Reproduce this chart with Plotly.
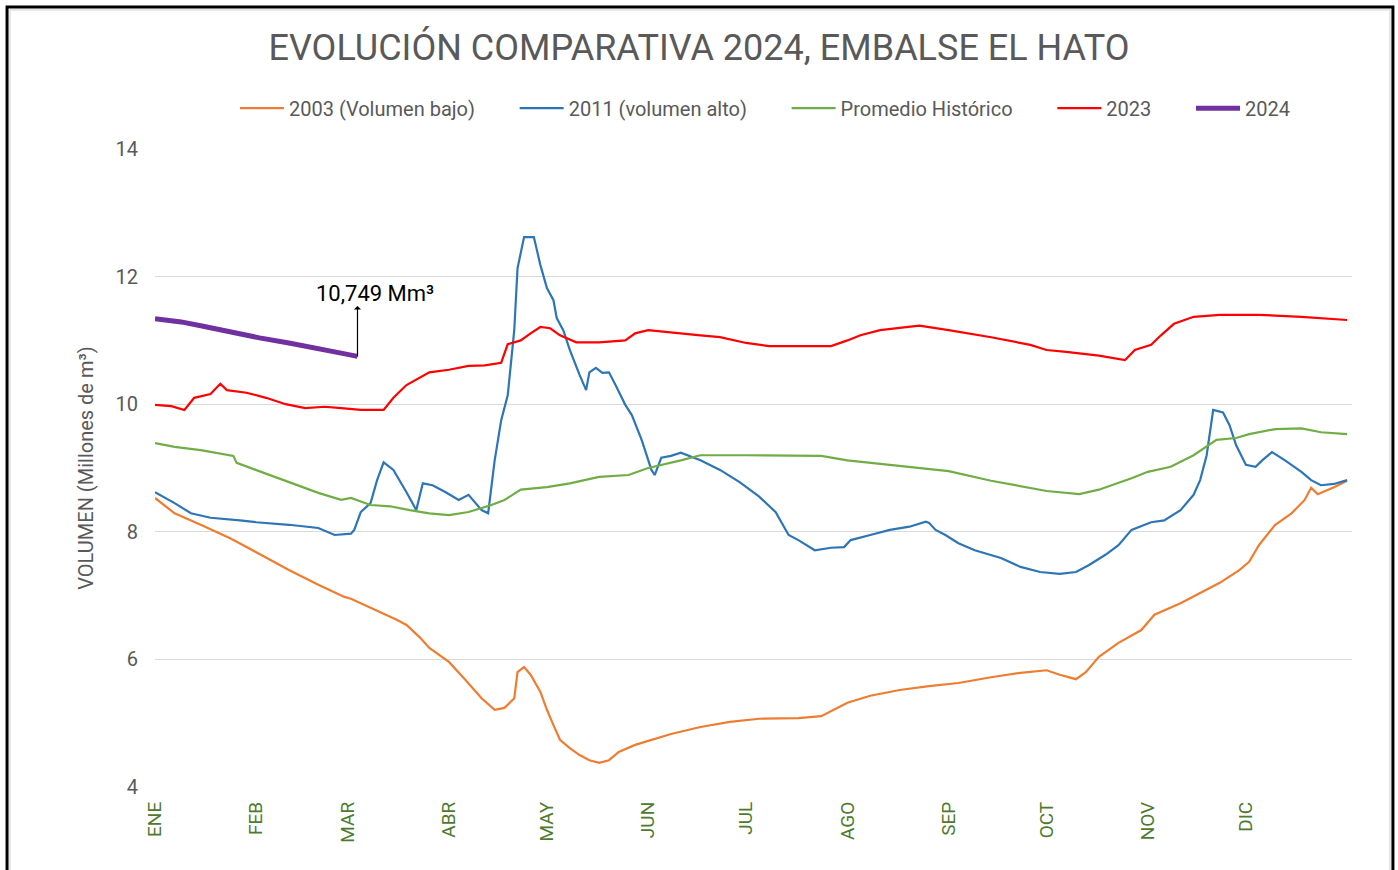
import plotly.graph_objects as go

# ---- data (day of year, volume in millones de m3) ----
month_days = [0, 31, 59, 90, 120, 151, 181, 212, 243, 273, 304, 334]
month_labels = ["ENE", "FEB", "MAR", "ABR", "MAY", "JUN", "JUL", "AGO", "SEP", "OCT", "NOV", "DIC"]
y_ticks = [4, 6, 8, 10, 12, 14]

d2003 = [0, 6, 14, 23, 31, 41, 50, 58, 60, 67, 74, 77, 81, 84, 90, 95, 100, 104, 107, 110, 111, 113, 115,
         118, 120, 122, 124, 127, 130, 133, 136, 139, 142, 147, 152, 158, 167, 176, 185, 197, 204, 208, 212,
         219, 228, 237, 246, 256, 265, 273, 277, 282, 285, 289, 295, 302, 306, 314, 320, 326, 332, 335, 338,
         343, 348, 352, 354, 356, 361, 365]
v2003 = [8.53, 8.29, 8.11, 7.90, 7.68, 7.40, 7.17, 6.98, 6.95, 6.79, 6.62, 6.54, 6.35, 6.18, 5.96, 5.68, 5.39,
         5.21, 5.24, 5.39, 5.80, 5.88, 5.76, 5.49, 5.21, 4.97, 4.74, 4.61, 4.50, 4.42, 4.38, 4.42, 4.55, 4.66,
         4.74, 4.83, 4.94, 5.02, 5.07, 5.08, 5.11, 5.21, 5.32, 5.43, 5.52, 5.58, 5.63, 5.72, 5.79, 5.83, 5.76,
         5.69, 5.80, 6.04, 6.26, 6.46, 6.70, 6.88, 7.04, 7.20, 7.40, 7.53, 7.79, 8.11, 8.29, 8.50, 8.69, 8.59,
         8.70, 8.80]

d2011 = [0, 6, 11, 17, 26, 31, 41, 50, 55, 60, 61, 63, 66, 68, 70, 73, 77, 80, 82, 85, 89, 93, 96, 100, 102,
         104, 106, 108, 110, 111, 113, 116, 118, 120, 122, 123, 125, 127, 130, 132, 133, 135, 137, 139, 141,
         144, 146, 149, 152, 153, 155, 158, 161, 167, 173, 179, 185, 190, 194, 197, 202, 207, 211, 213, 219,
         225, 231, 236, 237, 239, 242, 246, 251, 259, 265, 271, 277, 282, 286, 291, 295, 299, 305, 309, 314,
         318, 320, 322, 324, 327, 329, 331, 334, 337, 339, 342, 346, 351, 354, 357, 361, 365]
v2011 = [8.62, 8.45, 8.29, 8.22, 8.18, 8.15, 8.11, 8.06, 7.95, 7.97, 8.03, 8.31, 8.45, 8.81, 9.09, 8.97, 8.62,
         8.34, 8.76, 8.73, 8.62, 8.50, 8.58, 8.34, 8.29, 9.12, 9.75, 10.14, 11.16, 12.13, 12.62, 12.62, 12.18,
         11.82, 11.63, 11.35, 11.16, 10.85, 10.46, 10.22, 10.50, 10.57, 10.49, 10.50, 10.30, 9.99, 9.83, 9.44,
         8.97, 8.89, 9.16, 9.19, 9.24, 9.12, 8.97, 8.78, 8.55, 8.31, 7.95, 7.87, 7.71, 7.75, 7.76, 7.87, 7.95,
         8.03, 8.08, 8.16, 8.14, 8.03, 7.95, 7.82, 7.71, 7.59, 7.45, 7.37, 7.34, 7.37, 7.48, 7.64, 7.79, 8.03,
         8.15, 8.18, 8.34, 8.58, 8.81, 9.20, 9.91, 9.87, 9.67, 9.36, 9.05, 9.02, 9.12, 9.25, 9.12, 8.94, 8.81,
         8.73, 8.75, 8.81]

d_prom = [0, 6, 14, 24, 25, 31, 41, 50, 57, 60, 66, 72, 78, 84, 90, 96, 103, 107, 112, 120, 127, 136, 145,
          151, 161, 167, 181, 197, 204, 212, 228, 243, 256, 273, 283, 289, 299, 304, 311, 318, 325, 331, 335,
          343, 351, 357, 365]
v_prom = [9.39, 9.33, 9.28, 9.19, 9.08, 8.97, 8.78, 8.61, 8.50, 8.53, 8.42, 8.40, 8.34, 8.29, 8.26, 8.31,
          8.42, 8.50, 8.66, 8.70, 8.76, 8.86, 8.89, 9.00, 9.12, 9.20, 9.20, 9.20, 9.19, 9.12, 9.03, 8.95, 8.80,
          8.64, 8.59, 8.66, 8.84, 8.94, 9.02, 9.20, 9.44, 9.47, 9.53, 9.61, 9.62, 9.56, 9.53]

d2023 = [0, 5, 9, 12, 17, 20, 22, 28, 34, 40, 46, 52, 57, 63, 70, 73, 77, 81, 84, 90, 96, 101, 106, 108, 112,
         115, 118, 121, 124, 129, 136, 144, 147, 151, 158, 167, 173, 181, 188, 197, 207, 212, 216, 222, 234,
         243, 256, 268, 273, 279, 289, 297, 300, 305, 308, 312, 318, 326, 338, 351, 365]
v2023 = [9.99, 9.97, 9.91, 10.10, 10.16, 10.32, 10.22, 10.18, 10.10, 10.00, 9.94, 9.96, 9.94, 9.91, 9.91,
         10.10, 10.30, 10.41, 10.50, 10.54, 10.60, 10.61, 10.65, 10.94, 11.00, 11.11, 11.21, 11.19, 11.08,
         10.97, 10.97, 11.00, 11.11, 11.16, 11.13, 11.08, 11.05, 10.96, 10.91, 10.91, 10.91, 11.00, 11.08,
         11.16, 11.23, 11.16, 11.05, 10.93, 10.85, 10.82, 10.76, 10.69, 10.85, 10.93, 11.08, 11.26, 11.37,
         11.40, 11.40, 11.37, 11.32]

d2024 = [0, 8, 14, 23, 32, 41, 50, 57, 62]
v2024 = [11.34, 11.29, 11.23, 11.13, 11.04, 10.96, 10.88, 10.80, 10.749]

FONT = "Roboto, Open Sans, sans-serif"
GRAY = "#595959"
PAD = "\u00a0" * 7

fig = go.Figure()
series = [
    ("2003 (Volumen bajo)", d2003, v2003, "#ED7D31", 2.2),
    ("2011 (volumen alto)", d2011, v2011, "#2E75B6", 2.2),
    ("Promedio Histórico", d_prom, v_prom, "#70AD47", 2.2),
    ("2023", d2023, v2023, "#FF0000", 2.2),
    ("2024", d2024, v2024, "#7030A0", 5),
]
for i, (name, xs, ys, color, w) in enumerate(series):
    label = name + (PAD if i < len(series) - 1 else "")
    fig.add_trace(go.Scatter(x=xs, y=ys, name=label, mode="lines",
                             line=dict(color=color, width=w)))

# annotation with arrow
fig.add_annotation(x=d2024[-1], y=v2024[-1], ax=0, ay=-52, axref="pixel", ayref="pixel",
                   text="", showarrow=True, arrowside="start", arrowhead=2, arrowsize=1.8,
                   arrowwidth=1.2, arrowcolor="#000000", standoff=0, startstandoff=0)
fig.add_annotation(x=d2024[-1], y=v2024[-1], xshift=18, yshift=63, text="10,749 Mm³",
                   showarrow=False, font=dict(size=22, color="#000000", family=FONT))

fig.update_layout(
    width=1398, height=870,
    margin=dict(l=155, r=46, t=149, b=83),
    paper_bgcolor="white", plot_bgcolor="white",
    title=dict(text="EVOLUCIÓN COMPARATIVA 2024, EMBALSE EL HATO", x=0.5, xanchor="center",
               y=0.945, yanchor="middle", font=dict(size=36, color=GRAY, family=FONT)),
    legend=dict(orientation="h", x=0.51, xanchor="center", y=1.064, yanchor="middle",
                font=dict(size=20, color=GRAY, family=FONT), itemwidth=44,
                bgcolor="rgba(0,0,0,0)"),
    xaxis=dict(range=[0, 366.5], tickvals=month_days, ticktext=month_labels, tickangle=-90,
               showgrid=False, zeroline=False, showline=False, ticks="",
               tickfont=dict(size=19, color="#4E7A2E", family=FONT), ticklabelstandoff=10),
    yaxis=dict(range=[4, 14], tickvals=y_ticks, showgrid=True, gridcolor="#D9D9D9", gridwidth=1,
               zeroline=False, showline=False, ticks="", ticklabelstandoff=16,
               tickfont=dict(size=20, color=GRAY, family=FONT),
               title=dict(text="VOLUMEN (Millones de m³)", standoff=16,
                          font=dict(size=20, color=GRAY, family=FONT))),
    showlegend=True,
)

# outer frame
fig.add_shape(type="rect", xref="paper", yref="paper", x0=-0.1236, x1=1.0342, y0=-0.3, y1=1.2226,
              line=dict(color="#000000", width=3), fillcolor="rgba(0,0,0,0)", layer="above")
fig.add_shape(type="rect", xref="paper", yref="paper", x0=-0.1211, x1=1.0317, y0=-0.3, y1=1.2179,
              line=dict(color="#D0D0D0", width=1), fillcolor="rgba(0,0,0,0)", layer="above")

fig.write_html("out.html", config={"displayModeBar": False},
               post_script="document.body.style.margin='0';")
